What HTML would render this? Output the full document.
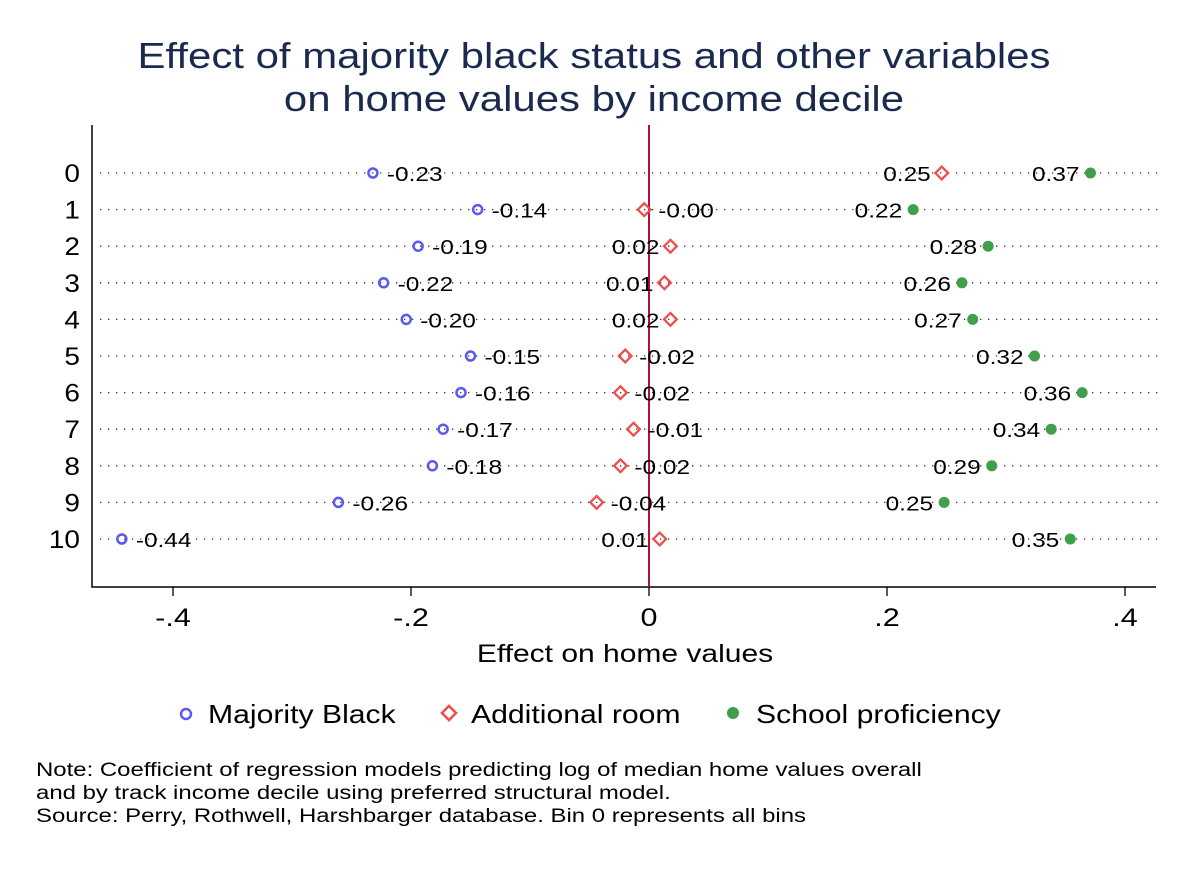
<!DOCTYPE html>
<html><head><meta charset="utf-8"><style>
body{margin:0;background:#fff;font-family:"Liberation Sans",Arial,sans-serif}
svg text{font-family:"Liberation Sans",Arial,sans-serif}
</style></head><body>
<svg id="c" width="1188" height="864" xmlns="http://www.w3.org/2000/svg">
<rect width="1188" height="864" fill="#fff"/>
<text class="st" data-f="1.165" x="594" y="68" font-size="36" fill="#1a2a4f" text-anchor="middle">Effect of majority black status and other variables</text>
<text class="st" data-f="1.165" x="594" y="111" font-size="36" fill="#1a2a4f" text-anchor="middle">on home values by income decile</text>
<g id="plot"></g>
<text class="st" data-f="1.2" x="625" y="662" font-size="25" text-anchor="middle">Effect on home values</text>
<g>
<circle cx="186" cy="714" r="5" fill="none" stroke="#5a5af0" stroke-width="2.5"/>
<text class="st" data-f="1.16" x="208" y="723" font-size="26">Majority Black</text>
<rect x="444" y="708" width="10" height="10" transform="rotate(45 449 713)" fill="none" stroke="#ef4e4e" stroke-width="2.5"/>
<text class="st" data-f="1.16" x="471" y="723" font-size="26">Additional room</text>
<circle cx="733" cy="713" r="6" fill="#3f9f4a"/>
<text class="st" data-f="1.16" x="756" y="723" font-size="26">School proficiency</text>
</g>
<g font-size="19">
<text class="st" data-f="1.26" x="36" y="776">Note: Coefficient of regression models predicting log of median home values overall</text>
<text class="st" data-f="1.26" x="36" y="799">and by track income decile using preferred structural model.</text>
<text class="st" data-f="1.26" x="36" y="822">Source: Perry, Rothwell, Harshbarger database. Bin 0 represents all bins</text>
</g>
</svg>
<script>
const categories=["0","1","2","3","4","5","6","7","8","9","10"];
const majorityBlack=[-0.232,-0.144,-0.194,-0.223,-0.204,-0.150,-0.158,-0.173,-0.182,-0.261,-0.443];
const additionalRoom=[0.246,-0.004,0.018,0.013,0.018,-0.020,-0.024,-0.013,-0.024,-0.044,0.009];
const schoolProficiency=[0.371,0.222,0.285,0.263,0.272,0.324,0.364,0.338,0.288,0.248,0.354];
const xTicks=[-0.4,-0.2,0,0.2,0.4];
const xTickLabels=["-.4","-.2","0",".2",".4"];
const NS="http://www.w3.org/2000/svg";
const g=document.getElementById('plot');
const xs=v=>649+v*1190;
const ys=i=>173+i*36.6;
function mk(t,a,p){const e=document.createElementNS(NS,t);for(const k in a)e.setAttribute(k,a[k]);(p||g).appendChild(e);return e;}
function stretch(e,f){const w=e.getComputedTextLength();e.setAttribute('textLength',w*f);e.setAttribute('lengthAdjust','spacingAndGlyphs');}
function fmt(v){return v.toFixed(2);}
categories.forEach((c,i)=>{
 const y=ys(i);
 const gl=mk('line',{x1:100,x2:1160,y1:y,y2:y,stroke:'#333','stroke-width':1.3,'stroke-dasharray':'1.3 6.7'});
 
 
 const t=mk('text',{x:80,y:y+9,'font-size':25,'text-anchor':'end'});t.textContent=c;
 
 
 stretch(t,1.12);
});
xTicks.forEach((v,i)=>{
 const tk=mk('line',{x1:xs(v),x2:xs(v),y1:587,y2:596,stroke:'#000','stroke-width':1.3});
 
 
 const t=mk('text',{x:xs(v),y:626,'font-size':25,'text-anchor':'middle'});t.textContent=xTickLabels[i];
 
 
 stretch(t,1.22);
});
const ax=mk('path',{d:'M92 125V587H1156',fill:'none',stroke:'#000','stroke-width':1.5});


const zl=mk('line',{x1:649,x2:649,y1:125,y2:587,stroke:'#b0103a','stroke-width':2});


function label(x,y,v,left){const t=mk('text',{x:left?x-11:x+14,y:y+8,'font-size':20,'text-anchor':left?'end':'start'});t.textContent=fmt(v);
 
 
 stretch(t,1.22);}
categories.forEach((c,i)=>{
 const y=ys(i);
 let x=xs(majorityBlack[i]);
 const m1=mk('circle',{cx:x,cy:y,r:4.5,fill:'none',stroke:'#5a5af0','stroke-width':2.5});
 
 
 label(x,y,majorityBlack[i],false);
 x=xs(additionalRoom[i]);
 const m2=mk('rect',{x:x-4.5,y:y-4.5,width:9,height:9,transform:`rotate(45 ${x} ${y})`,fill:'none',stroke:'#ef4e4e','stroke-width':2.3});
 
 
 label(x,y,additionalRoom[i],additionalRoom[i]>0);
 x=xs(schoolProficiency[i]);
 const m3=mk('circle',{cx:x,cy:y,r:5.5,fill:'#3f9f4a'});
 
 
 label(x,y,schoolProficiency[i],true);
});
document.querySelectorAll('text.st').forEach(e=>stretch(e,parseFloat(e.getAttribute('data-f'))));
</script>
</body></html>
